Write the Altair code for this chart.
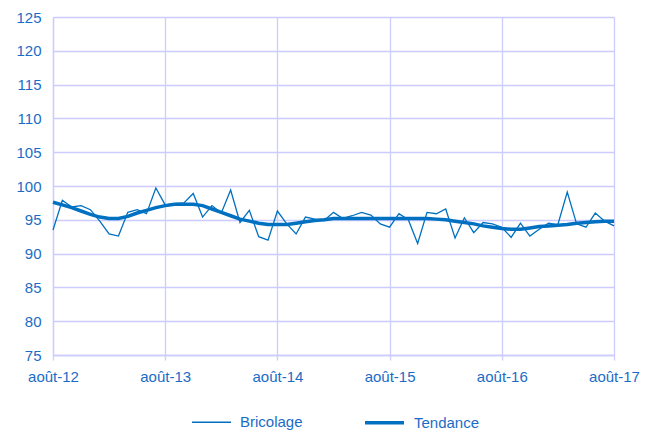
import altair as alt
import pandas as pd

months = list(range(61))
x_tick_values = [0, 12, 24, 36, 48, 60]
x_tick_labels = ["août-12", "août-13", "août-14", "août-15", "août-16", "août-17"]

bricolage = [
    93.5, 97.9, 96.9, 97.1, 96.5, 94.8, 92.9, 92.6, 96.1, 96.5,
    95.9, 99.7, 97.2, 97.4, 97.5, 98.9, 95.4, 97.1, 96.0, 99.4,
    94.6, 96.4, 92.5, 92.0, 96.3, 94.4, 92.9, 95.4, 95.1, 94.9,
    96.1, 95.2, 95.6, 96.1, 95.7, 94.4, 93.9, 95.9, 95.0, 91.5,
    96.1, 95.9, 96.6, 92.3, 95.3, 93.1, 94.6, 94.4, 93.9, 92.4,
    94.5, 92.6, 93.6, 94.5, 94.3, 99.1, 94.4, 93.9, 96.0, 94.8,
    94.1,
]
tendance = [
    97.6, 97.2, 96.8, 96.3, 95.8, 95.4, 95.2, 95.2, 95.5, 96.0,
    96.4, 96.8, 97.1, 97.3, 97.3, 97.3, 97.1, 96.6, 96.1, 95.6,
    95.1, 94.8, 94.5, 94.3, 94.3, 94.3, 94.5, 94.7, 94.9, 95.0,
    95.2, 95.2, 95.2, 95.2, 95.2, 95.2, 95.2, 95.2, 95.2, 95.2,
    95.2, 95.1, 95.0, 94.8, 94.6, 94.4, 94.1, 93.9, 93.7, 93.6,
    93.6, 93.8, 94.0, 94.1, 94.2, 94.3, 94.5, 94.6, 94.7, 94.8,
    94.8,
]
series_names = ["Bricolage", "Tendance"]

df = pd.DataFrame({
    "mois": months * 2,
    "valeur": bricolage + tendance,
    "serie": [series_names[0]] * len(months) + [series_names[1]] * len(months),
})

label_map = "{" + ",".join(f"'{v}':'{l}'" for v, l in zip(x_tick_values, x_tick_labels)) + "}"

BLUE = "#0070C0"
TEXT = "#1B6CC6"
GRID = "#CCCCFF"
FONT = "Liberation Sans"

legend_kw = dict(title=None, orient="none", direction="horizontal",
                 legendX=138, legendY=384,
                 symbolType="stroke", symbolSize=1521,
                 labelColor=TEXT, labelFont=FONT, labelFontSize=15,
                 labelOffset=8, columnPadding=55)

chart = alt.Chart(df).mark_line(interpolate="linear").encode(
    x=alt.X("mois:Q",
            scale=alt.Scale(domain=[0, 60], nice=False, zero=False),
            axis=alt.Axis(values=x_tick_values, title=None,
                          labelExpr=f"{label_map}[datum.value]",
                          grid=True, gridColor=GRID, gridWidth=1.3,
                          domainColor=GRID, domainWidth=1.3,
                          tickColor=GRID, tickSize=5, tickWidth=1.3,
                          labelColor=TEXT, labelFont=FONT, labelFontSize=15,
                          labelPadding=9, labelFlush=False)),
    y=alt.Y("valeur:Q",
            scale=alt.Scale(domain=[75, 125], nice=False, zero=False),
            axis=alt.Axis(values=list(range(75, 126, 5)), title=None,
                          grid=True, gridColor=GRID, gridWidth=1.3,
                          domainColor=GRID, domainWidth=1.3,
                          ticks=False,
                          labelColor=TEXT, labelFont=FONT, labelFontSize=15,
                          labelPadding=12)),
    color=alt.Color("serie:N",
                    scale=alt.Scale(domain=series_names, range=[BLUE, BLUE]),
                    legend=alt.Legend(**legend_kw)),
    strokeWidth=alt.StrokeWidth("serie:N",
                                scale=alt.Scale(domain=series_names, range=[1.3, 3.5]),
                                legend=alt.Legend(**legend_kw)),
).properties(
    width=561, height=338,
    autosize=alt.AutoSizeParams(type="none"),
    padding={"left": 45, "top": 9, "right": 35, "bottom": 77},
).configure_view(stroke=None)

chart.save("out.html", embed_options={"renderer": "svg", "actions": False})
